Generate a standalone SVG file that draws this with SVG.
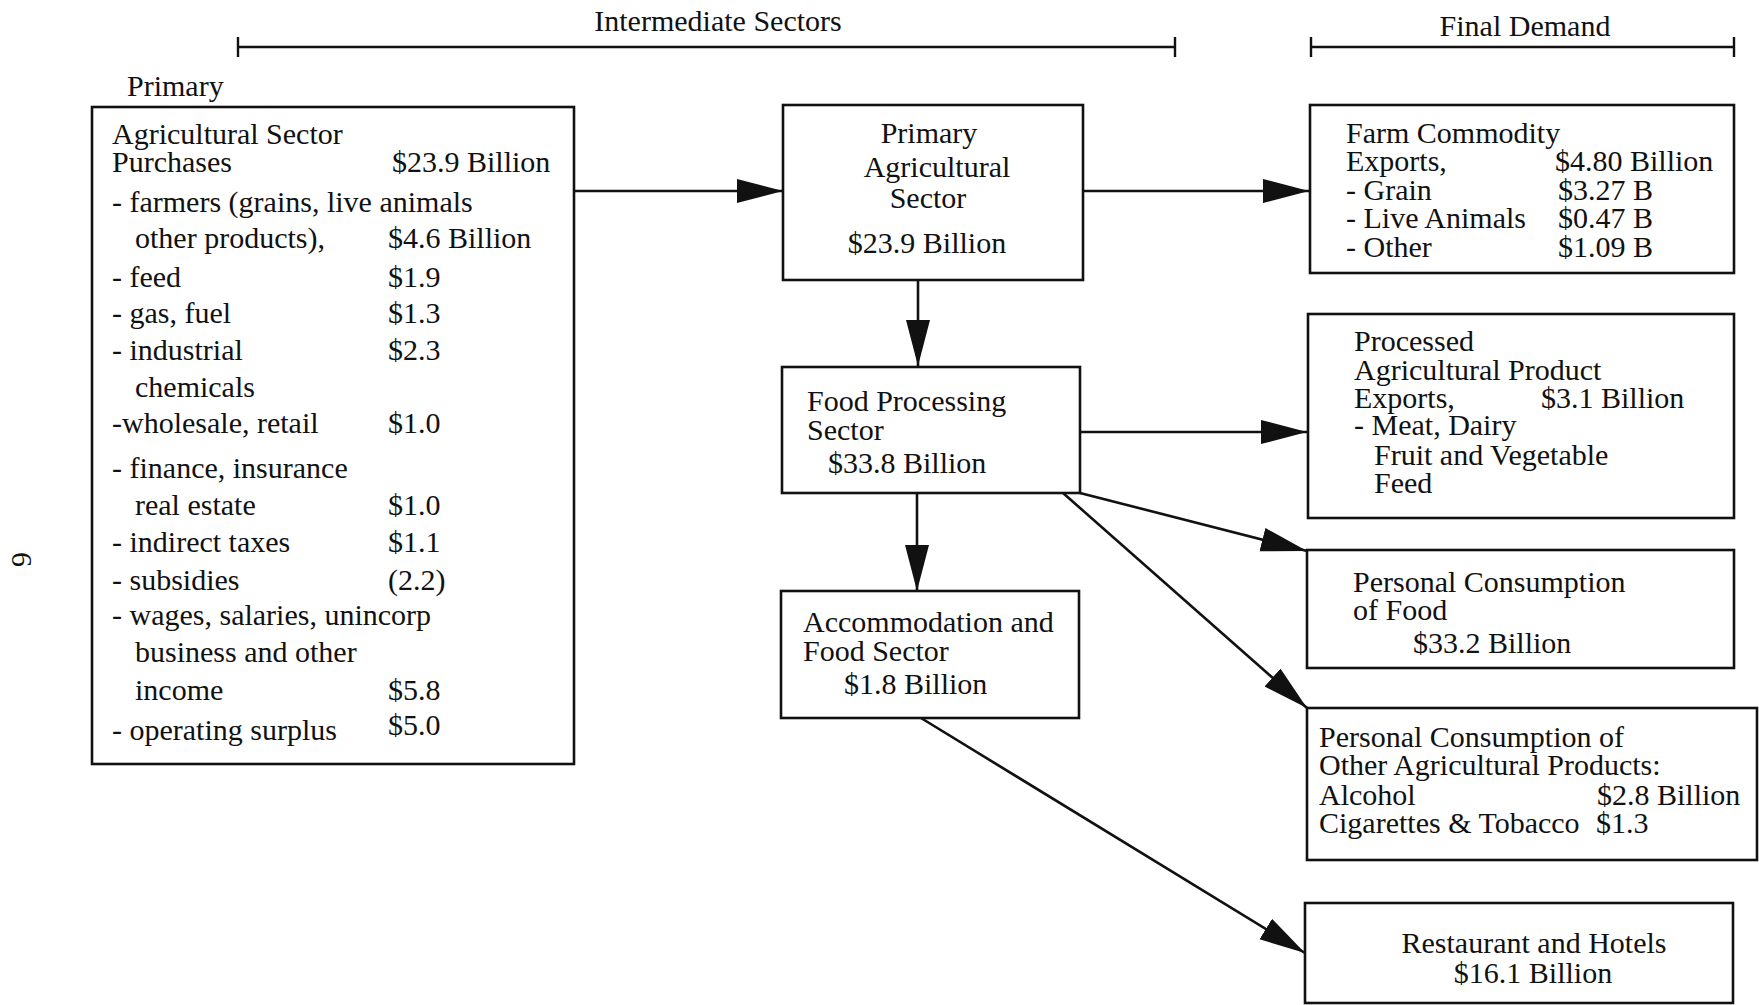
<svg xmlns="http://www.w3.org/2000/svg" width="1759" height="1005" viewBox="0 0 1759 1005">
<style>
text{font-family:"Liberation Serif","Times New Roman",serif;font-size:30px;fill:#111}
.box{fill:#fff;stroke:#111;stroke-width:2.6}
.con{stroke:#111;stroke-width:2.6;fill:none;marker-end:url(#ah)}
.br{stroke:#111;stroke-width:2.4;fill:none}
.m{text-anchor:middle}
</style>
<defs>
<marker id="ah" markerUnits="userSpaceOnUse" markerWidth="48" markerHeight="26" refX="46" refY="12" orient="auto">
<path d="M0,0 L46,12 L0,24 z" fill="#111"/>
</marker>
</defs>
<rect width="1759" height="1005" fill="#fff"/>

<g id="headers">
<path class="br" d="M238,47 H1175 M238,37 V57 M1175,37 V57"/>
<text class="m" x="718" y="31">Intermediate Sectors</text>
<path class="br" d="M1311,47 H1734 M1311,37 V57 M1734,37 V57"/>
<text class="m" x="1525" y="36">Final Demand</text>
<text x="127" y="96">Primary</text>
<text transform="translate(12,552) rotate(90)" x="0" y="0">6</text>
</g>

<g id="connectors">
<line class="con" x1="574" y1="191" x2="783" y2="191"/>
<line class="con" x1="1083" y1="191" x2="1309" y2="191"/>
<line class="con" x1="918" y1="280" x2="918" y2="366"/>
<line class="con" x1="1080" y1="432" x2="1307" y2="432"/>
<line class="con" x1="917" y1="493" x2="917" y2="591"/>
<line class="con" x1="1080" y1="493" x2="1307" y2="551"/>
<line class="con" x1="1063" y1="493" x2="1307" y2="708"/>
<line class="con" x1="921" y1="718" x2="1305" y2="953"/>
</g>

<g id="primary-purchases">
<rect class="box" x="92" y="107" width="482" height="657"/>
<text x="112" y="144">Agricultural Sector</text>
<text x="112" y="172">Purchases</text><text x="392" y="172">$23.9 Billion</text>
<text x="112" y="212">- farmers (grains, live animals</text>
<text x="135" y="248">other products),</text><text x="388" y="248">$4.6 Billion</text>
<text x="112" y="287">- feed</text><text x="388" y="287">$1.9</text>
<text x="112" y="323">- gas, fuel</text><text x="388" y="323">$1.3</text>
<text x="112" y="360">- industrial</text><text x="388" y="360">$2.3</text>
<text x="135" y="397">chemicals</text>
<text x="112" y="433">-wholesale, retail</text><text x="388" y="433">$1.0</text>
<text x="112" y="478">- finance, insurance</text>
<text x="135" y="515">real estate</text><text x="388" y="515">$1.0</text>
<text x="112" y="552">- indirect taxes</text><text x="388" y="552">$1.1</text>
<text x="112" y="590">- subsidies</text><text x="388" y="590">(2.2)</text>
<text x="112" y="625">- wages, salaries, unincorp</text>
<text x="135" y="662">business and other</text>
<text x="135" y="700">income</text><text x="388" y="700">$5.8</text>
<text x="112" y="740">- operating surplus</text><text x="388" y="735">$5.0</text>
</g>

<g id="primary-ag-sector">
<rect class="box" x="783" y="105" width="300" height="175"/>
<text class="m" x="929" y="143">Primary</text>
<text class="m" x="937" y="177">Agricultural</text>
<text class="m" x="928" y="208">Sector</text>
<text class="m" x="927" y="253">$23.9 Billion</text>
</g>

<g id="food-processing">
<rect class="box" x="782" y="367" width="298" height="126"/>
<text x="807" y="411">Food Processing</text>
<text x="807" y="440">Sector</text>
<text x="828" y="473">$33.8 Billion</text>
</g>

<g id="accommodation">
<rect class="box" x="781" y="591" width="298" height="127"/>
<text x="803" y="632">Accommodation and</text>
<text x="803" y="661">Food Sector</text>
<text x="844" y="694">$1.8 Billion</text>
</g>

<g id="farm-exports">
<rect class="box" x="1310" y="105" width="424" height="168"/>
<text x="1346" y="143">Farm Commodity</text>
<text x="1346" y="171">Exports,</text><text x="1555" y="171">$4.80 Billion</text>
<text x="1346" y="200">- Grain</text><text x="1558" y="200">$3.27 B</text>
<text x="1346" y="228">- Live Animals</text><text x="1558" y="228">$0.47 B</text>
<text x="1346" y="257">- Other</text><text x="1558" y="257">$1.09 B</text>
</g>

<g id="processed-exports">
<rect class="box" x="1308" y="314" width="426" height="204"/>
<text x="1354" y="351">Processed</text>
<text x="1354" y="380">Agricultural Product</text>
<text x="1354" y="408">Exports,</text><text x="1541" y="408">$3.1 Billion</text>
<text x="1354" y="435">- Meat, Dairy</text>
<text x="1374" y="465">Fruit and Vegetable</text>
<text x="1374" y="493">Feed</text>
</g>

<g id="personal-food">
<rect class="box" x="1307" y="550" width="427" height="118"/>
<text x="1353" y="592">Personal Consumption</text>
<text x="1353" y="620">of Food</text>
<text x="1413" y="653">$33.2 Billion</text>
</g>

<g id="personal-other">
<rect class="box" x="1307" y="708" width="450" height="152"/>
<text x="1319" y="747">Personal Consumption of</text>
<text x="1319" y="775">Other Agricultural Products:</text>
<text x="1319" y="805">Alcohol</text><text x="1597" y="805">$2.8 Billion</text>
<text x="1319" y="833">Cigarettes &amp; Tobacco</text><text x="1596" y="833">$1.3</text>
</g>

<g id="restaurants">
<rect class="box" x="1305" y="903" width="428" height="100"/>
<text class="m" x="1534" y="953">Restaurant and Hotels</text>
<text class="m" x="1533" y="983">$16.1 Billion</text>
</g>
</svg>
